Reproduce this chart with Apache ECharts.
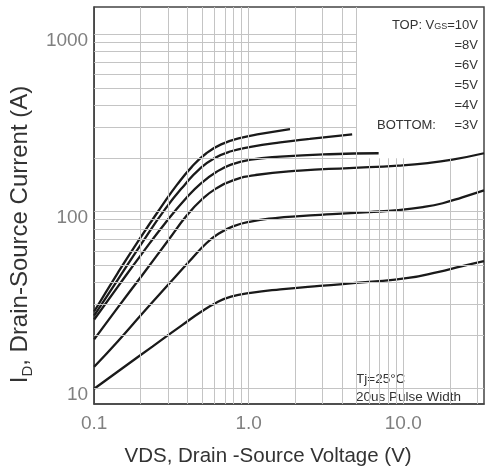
<!DOCTYPE html>
<html><head><meta charset="utf-8">
<script src="https://cdn.jsdelivr.net/npm/echarts@6/dist/echarts.min.js"></script>
<style>html,body{margin:0;padding:0;background:#fff}#c{width:487px;height:472px}</style>
</head><body><div id="c"></div>
<script>
// Data (VDS in V, ID in A)
const vgs10V = [[0.1,27.3],[0.142,45.0],[0.196,69.8],[0.275,108],[0.343,141.5],[0.427,178.4],[0.532,213.6],[0.663,239.8],[0.889,260.8],[1.19,274.5],[1.85,292.7]];
const vgs8V  = [[0.1,25.9],[0.142,41.2],[0.205,67.1],[0.287,103],[0.386,142],[0.480,173.9],[0.599,200.3],[0.768,219.2],[1.03,232.2],[1.60,246.1],[2.48,257.4],[4.67,272.8]];
const vgs6V  = [[0.1,24.6],[0.142,37.6],[0.205,58.3],[0.287,85.7],[0.397,120],[0.495,145.2],[0.617,167.3],[0.768,184.2],[1.03,196.5],[1.60,204.2],[3.33,210.9],[6.93,213.6]];
const vgs5V  = [[0.1,19.0],[0.142,28.7],[0.205,43.9],[0.305,69.8],[0.397,95.0],[0.495,116.7],[0.617,135.3],[0.791,150.0],[1.108,161.0],[2.14,170.6],[4.46,176.1],[9.29,181.9],[14.4,187.8],[20.8,196.5],[33.3,213.6]];
const vgs4V  = [[0.1,13.3],[0.142,18.5],[0.205,26.6],[0.305,39.1],[0.409,51.9],[0.532,66.3],[0.644,75.4],[0.791,82.5],[1.03,87.9],[1.486,92.0],[2.14,94.4],[3.48,96.8],[5.98,99.4],[9.29,102.0],[13.4,106.0],[18.0,111.5],[24.1,120.5],[33.3,131.9]];
const vgs3V  = [[0.1,10.0],[0.153,13.1],[0.238,17.3],[0.369,22.8],[0.495,27.3],[0.617,30.6],[0.768,33.1],[1.03,34.8],[1.60,36.4],[2.87,38.1],[5.98,40.1],[10.76,42.2],[16.7,45.6],[24.1,49.3],[33.3,52.6]];

const xTickLabels = {0.1:'0.1', 1:'1.0', 10:'10.0'};
const yTickLabels = [10, 100, 1000];

// grid line positions (axis values)
const xGridFull  = [0.2,0.3,0.4,0.5,0.6,0.7,0.8,0.9,1,2,3,4,5];
const xGridLower = [6,7,8,9,10,20,30];
const yGridFull  = [10,20,30,40,50,60,70,80,90,100];
const yGridLeft  = [200,300,400,500,600,700,800,900,1000];

const X_MIN = 0.1, X_MAX = 33.3, Y_MIN = 8.2, Y_MAX = 1430, LEGEND_Y = 200, LEGEND_X = 5;

const gridLines = [];
xGridFull.forEach(v => gridLines.push([{coord:[v, Y_MIN]},{coord:[v, Y_MAX]}]));
xGridLower.forEach(v => gridLines.push([{coord:[v, Y_MIN]},{coord:[v, LEGEND_Y]}]));
yGridFull.forEach(v => gridLines.push([{coord:[X_MIN, v]},{coord:[X_MAX, v]}]));
yGridLeft.forEach(v => gridLines.push([{coord:[X_MIN, v]},{coord:[LEGEND_X, v]}]));

function curve(name, data) {
  return {name, type:'line', data, smooth:0.5, showSymbol:false, symbol:'none', z:3,
    lineStyle:{color:'#1a1a1a', width:2.3}};
}

const FONT = 'Liberation Sans';
const chart = echarts.init(document.getElementById('c'));
chart.setOption({
  animation:false,
  backgroundColor:'#fff',
  grid:{left:91, right:0, top:7, bottom:64, show:true, borderColor:'#444', borderWidth:1.5},
  xAxis:{type:'log', logBase:10, min:X_MIN, max:X_MAX,
    axisLine:{show:true, lineStyle:{color:'#444', width:1.5}}, axisTick:{show:false}, splitLine:{show:false},
    axisLabel:{color:'#808080', fontSize:19, fontFamily:FONT, margin:10,
      formatter: v => { for (const k in xTickLabels) { if (Math.abs(Math.log10(v) - Math.log10(+k)) < 1e-6) return xTickLabels[k]; } return ''; }},
    name:'VDS, Drain -Source Voltage (V)', nameLocation:'middle', nameGap:42,
    nameTextStyle:{fontSize:20.5, color:'#333', fontFamily:FONT, padding:[0,42,0,0]}},
  yAxis:{type:'log', logBase:10, min:Y_MIN, max:Y_MAX,
    axisLine:{show:true, lineStyle:{color:'#444', width:1.5}}, axisTick:{show:false}, splitLine:{show:false},
    axisLabel:{color:'#808080', fontSize:19, fontFamily:FONT, margin:6, verticalAlign:'top', lineHeight:12,
      formatter: v => { for (const t of yTickLabels) { if (Math.abs(Math.log10(v) - Math.log10(t)) < 1e-6) return String(t); } return ''; }},
    name:'I{s|D}, Drain-Source Current (A)', nameLocation:'middle', nameGap:58,
    nameTextStyle:{fontSize:24, color:'#333', fontFamily:FONT, padding:[0,58,0,0],
      rich:{s:{fontSize:15, color:'#333', fontFamily:FONT, verticalAlign:'bottom', padding:[0,0,-3,0]}}}},
  series:[
    {type:'line', data:[], silent:true, z:1,
      markLine:{silent:true, symbol:'none', animation:false, label:{show:false},
        lineStyle:{color:'#c4c4c4', width:1, type:'solid'}, emphasis:{disabled:true}, data:gridLines}},
    curve('10V', vgs10V), curve('8V', vgs8V), curve('6V', vgs6V),
    curve('5V', vgs5V), curve('4V', vgs4V), curve('3V', vgs3V)
  ],
  graphic:[
    {type:'text', x:478, y:25, style:{text:'TOP: V{s|GS}=10V', align:'right', verticalAlign:'middle', fill:'#333', font:'13px "Liberation Sans"', rich:{s:{fontSize:9, fill:'#333', padding:[4,0,0,0]}}}},
    {type:'text', x:478, y:45, style:{text:'=8V', align:'right', verticalAlign:'middle', fill:'#333', font:'13px "Liberation Sans"'}},
    {type:'text', x:478, y:65, style:{text:'=6V', align:'right', verticalAlign:'middle', fill:'#333', font:'13px "Liberation Sans"'}},
    {type:'text', x:478, y:85, style:{text:'=5V', align:'right', verticalAlign:'middle', fill:'#333', font:'13px "Liberation Sans"'}},
    {type:'text', x:478, y:105, style:{text:'=4V', align:'right', verticalAlign:'middle', fill:'#333', font:'13px "Liberation Sans"'}},
    {type:'text', x:478, y:125, style:{text:'=3V', align:'right', verticalAlign:'middle', fill:'#333', font:'13px "Liberation Sans"'}},
    {type:'text', x:377, y:125, style:{text:'BOTTOM:', align:'left', verticalAlign:'middle', fill:'#333', font:'13px "Liberation Sans"'}},
    {type:'text', x:356, y:379, style:{text:'Tj=25°C', align:'left', verticalAlign:'middle', fill:'#333', font:'13.5px "Liberation Sans"'}},
    {type:'text', x:356, y:397, style:{text:'20us Pulse Width', align:'left', verticalAlign:'middle', fill:'#333', font:'13.5px "Liberation Sans"'}}
  ]
});
</script>
</body></html>
